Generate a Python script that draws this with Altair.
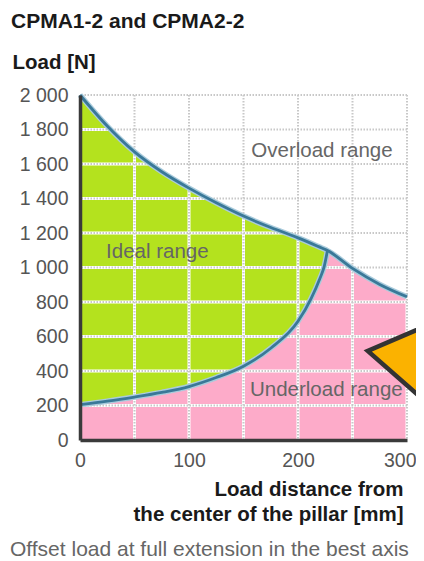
import altair as alt
import pandas as pd

# ---- data ----
dist = [0, 25, 50, 75, 100, 125, 150, 175, 200, 212, 220, 224, 227, 250, 275, 300]
upper_load = [2000, 1820, 1670, 1555, 1460, 1375, 1298, 1232, 1172, 1140, 1118, 1107, 1098, 995, 902, 830]
lower_load = [205, 225, 249, 276, 310, 362, 428, 532, 688, 820, 935, 1005, 1098]

grid_x = [50, 100, 150, 200, 250, 300]
grid_y = [200, 400, 600, 800, 1000, 1200, 1400, 1600, 1800, 2000]
x_ticks = [0, 100, 200, 300]
y_ticks = [0, 200, 400, 600, 800, 1000, 1200, 1400, 1600, 1800, 2000]

region_labels = ["Ideal range", "Overload range", "Underload range"]
label_x = [71, 222, 226]
label_y = [1090, 1675, 290]

marker_x = [264]
marker_y = [516]

title_text = ["CPMA1-2 and CPMA2-2"]
footnote_text = ["Offset load at full extension in the best axis"]
x_title = ["Load distance from", "the center of the pillar [mm]"]
y_title = "Load [N]"

GREEN = "#b4e21e"
PINK = "#fdabc9"
ORANGE = "#fbb200"
FONT = "Liberation Sans"

df_up = pd.DataFrame({"x": dist, "upper": upper_load})
n = len(lower_load)
df_band = pd.DataFrame({"x": dist[:n], "lower": lower_load, "upper": upper_load[:n]})
df_gx = pd.DataFrame({"gx": grid_x})
df_gy = pd.DataFrame({"gy": grid_y})
df_lab = pd.DataFrame({"x": label_x, "y": label_y, "label": region_labels})
df_mark = pd.DataFrame({"x": marker_x, "y": marker_y})

xscale = alt.Scale(domain=[0, 300], nice=False, zero=False)
yscale = alt.Scale(domain=[0, 2000], nice=False, zero=False)

xaxis = alt.Axis(
    values=x_ticks, title=x_title, ticks=False, tickSize=0, grid=False,
    labelPadding=11, labelOverlap=False, labelFlush=False,
    labelAlign={"condition": {"test": "datum.value == 300", "value": "right"}, "value": "center"},
    labelOffset={"condition": {"test": "datum.value == 300", "value": 9}, "value": 0},
    titleX=323, titleY=39,
    titleAlign="right", titleBaseline="top", titleAngle=0,
    titleLineHeight=25, titleFontSize=20.5, titleFontWeight="bold",
    titleColor="#1a1a1a", titleFont=FONT, zindex=1,
)
yaxis = alt.Axis(
    values=y_ticks, title=y_title, ticks=False, tickSize=0, grid=False,
    labelPadding=12, labelOverlap=False,
    labelExpr="replace(format(datum.value, ','), ',', ' ')",
    titleX=-68, titleY=-33, titleAlign="left", titleBaseline="middle",
    titleAngle=0, titleFontSize=20.5, titleFontWeight="bold",
    titleColor="#1a1a1a", titleFont=FONT, zindex=1,
)

X = lambda f: alt.X(f, scale=xscale, axis=xaxis)
Y = lambda f: alt.Y(f, scale=yscale, axis=yaxis)

pink = alt.Chart(df_up).mark_area(color=PINK, interpolate="monotone").encode(
    x=X("x:Q"), y=Y("upper:Q"))
green = alt.Chart(df_band).mark_area(color=GREEN, interpolate="monotone").encode(
    x=X("x:Q"), y=Y("lower:Q"), y2="upper:Q")

gx_white = alt.Chart(df_gx).mark_rule(color="white", strokeWidth=3).encode(x=X("gx:Q"))
gy_white = alt.Chart(df_gy).mark_rule(color="white", strokeWidth=3).encode(y=Y("gy:Q"))
gx_dot = alt.Chart(df_gx).mark_rule(color="#c8c8c8", strokeWidth=2, strokeDash=[1.5, 1.5]).encode(x=X("gx:Q"))
gy_dot = alt.Chart(df_gy).mark_rule(color="#c8c8c8", strokeWidth=2, strokeDash=[1.5, 1.5]).encode(y=Y("gy:Q"))

up_halo = alt.Chart(df_up).mark_line(color="#a9cbdc", strokeWidth=5.5, interpolate="monotone").encode(
    x=X("x:Q"), y=Y("upper:Q"))
up_line = alt.Chart(df_up).mark_line(color="#3a7898", strokeWidth=2.8, interpolate="monotone").encode(
    x=X("x:Q"), y=Y("upper:Q"))
lo_halo = alt.Chart(df_band).mark_line(color="#a9cbdc", strokeWidth=5.5, interpolate="monotone").encode(
    x=X("x:Q"), y=Y("lower:Q"))
lo_line = alt.Chart(df_band).mark_line(color="#3a7898", strokeWidth=2.8, interpolate="monotone").encode(
    x=X("x:Q"), y=Y("lower:Q"))

labels = alt.Chart(df_lab).mark_text(
    font=FONT, fontSize=20.5, color="#666666", baseline="middle", align="center"
).encode(x=X("x:Q"), y=Y("y:Q"), text="label:N")

marker = alt.Chart(df_mark).mark_point(
    shape="M 1.6 -0.686 L 0 0 L 1.6 1.4", size=10000, filled=True,
    fill=ORANGE, fillOpacity=1, stroke="#333333", strokeWidth=4.5,
    strokeJoin="miter", opacity=1,
).encode(x=X("x:Q"), y=Y("y:Q"))

title = alt.Chart(pd.DataFrame({"t": title_text})).mark_text(
    font=FONT, fontSize=21, fontWeight="bold", color="#1a1a1a",
    align="left", baseline="middle"
).encode(x=alt.value(-69), y=alt.value(-73), text="t:N")

footnote = alt.Chart(pd.DataFrame({"t": footnote_text})).mark_text(
    font=FONT, fontSize=21, color="#666666", align="left", baseline="middle"
).encode(x=alt.value(-70), y=alt.value(455), text="t:N")

chart = alt.layer(
    pink, green, gx_white, gy_white, gx_dot, gy_dot,
    up_halo, lo_halo, up_line, lo_line, labels, marker, title, footnote
).properties(
    width=327, height=345,
    autosize=alt.AutoSizeParams(type="none"),
    padding={"left": 72, "top": 87, "right": 9, "bottom": 121},
    background="white",
).configure_view(stroke=None).configure_axis(
    labelFont=FONT, labelFontSize=19.5, labelColor="#555555",
    domainColor="#3a3a3a", domainWidth=3.5,
)

chart.save("out.html", embed_options={"renderer": "svg", "actions": False})
